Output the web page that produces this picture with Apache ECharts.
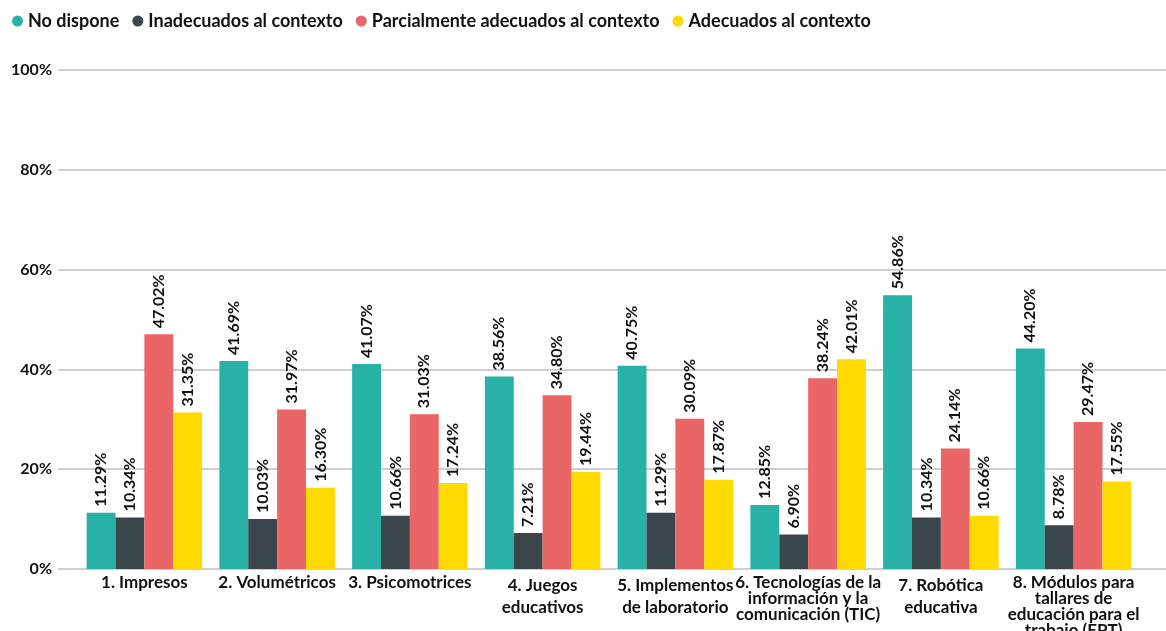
<!DOCTYPE html>
<html>
<head>
<meta charset="utf-8">
<script src="https://cdn.jsdelivr.net/npm/echarts@6/dist/echarts.min.js"></script>
<style>
html,body{margin:0;padding:0;background:#fff;}
#chart{width:1166px;height:631px;}
</style>
</head>
<body>
<div id="chart"></div>
<script>
const categories = [
  "1. Impresos",
  "2. Volumétricos",
  "3. Psicomotrices",
  "4. Juegos\neducativos",
  "5. Implementos\nde laboratorio",
  "6. Tecnologías de la\ninformación y la\ncomunicación (TIC)",
  "7. Robótica\neducativa",
  "8. Módulos para\ntallares de\neducación para el\ntrabajo (EPT)"
];
const seriesNames = ["No dispone", "Inadecuados al contexto", "Parcialmente adecuados al contexto", "Adecuados al contexto"];
const noDispone    = [11.29, 41.69, 41.07, 38.56, 40.75, 12.85, 54.86, 44.20];
const inadecuados  = [10.34, 10.03, 10.66, 7.21, 11.29, 6.90, 10.34, 8.78];
const parcialmente = [47.02, 31.97, 31.03, 34.80, 30.09, 38.24, 24.14, 29.47];
const adecuados    = [31.35, 16.30, 17.24, 19.44, 17.87, 42.01, 10.66, 17.55];
const yTicks = [0, 20, 40, 60, 80, 100];

const colors = ["#27B1A7", "#3A464B", "#EA6566", "#FFDA00"];
const FONT = "Lato";
const allData = [noDispone, inadecuados, parcialmente, adecuados];

const catStyle = { fontFamily: FONT, fontWeight: 'bold', fontSize: 17, color: '#111', align: 'center' };

const chart = echarts.init(document.getElementById('chart'));
chart.setOption({
  animation: false,
  textStyle: { fontFamily: FONT },
  color: colors,
  legend: {
    left: 7, top: 7,
    icon: 'circle',
    itemWidth: 11, itemHeight: 11, itemGap: 13,
    textStyle: { fontFamily: FONT, fontWeight: 'bold', fontSize: 18, color: '#111' },
    data: seriesNames
  },
  grid: [
    { left: 58, right: 0, top: 70, bottom: 62, containLabel: false, outerBoundsMode: 'none' },
    { left: 78, right: 26, top: 70, bottom: 62, containLabel: false, outerBoundsMode: 'none' }
  ],
  xAxis: [
    { gridIndex: 0, type: 'value', min: 0, max: 1, show: false },
    {
      gridIndex: 1, type: 'category', data: categories,
      axisLine: { show: false }, axisTick: { show: false },
      axisLabel: {
        interval: 0, margin: 6,
        fontFamily: FONT, fontWeight: 'bold', fontSize: 17, color: '#111',
        formatter: function (v) {
          const lines = v.split('\n');
          const key = lines.length === 2 ? 'two' : 'many';
          return lines.map(l => '{' + key + '|' + l + '}').join('\n');
        },
        rich: {
          two: Object.assign({ lineHeight: 22 }, catStyle),
          many: Object.assign({ lineHeight: 16 }, catStyle)
        }
      }
    }
  ],
  yAxis: [
    {
      gridIndex: 0, type: 'value', min: yTicks[0], max: yTicks[yTicks.length - 1], interval: 20,
      axisLine: { show: false }, axisTick: { show: false },
      axisLabel: { formatter: '{value}%', margin: 6, fontFamily: FONT, fontWeight: 'bold', fontSize: 16, color: '#111' },
      splitLine: { lineStyle: { color: '#BFBFBF', width: 1.5 } }
    },
    {
      gridIndex: 1, type: 'value', min: 0, max: 100, interval: 20, show: false,
      splitLine: { show: false }
    }
  ],
  series: seriesNames.map((name, i) => ({
    name: name,
    type: 'bar',
    xAxisIndex: 1, yAxisIndex: 1,
    data: allData[i],
    barGap: '0%',
    barCategoryGap: '13%',
    itemStyle: { color: colors[i] },
    label: {
      show: true, position: 'top', rotate: 90, align: 'left', verticalAlign: 'middle',
      distance: 6,
      fontFamily: FONT, fontSize: 16, fontWeight: 'bold', color: '#111',
      formatter: p => p.value.toFixed(2) + '%'
    }
  }))
});
</script>
</body>
</html>
